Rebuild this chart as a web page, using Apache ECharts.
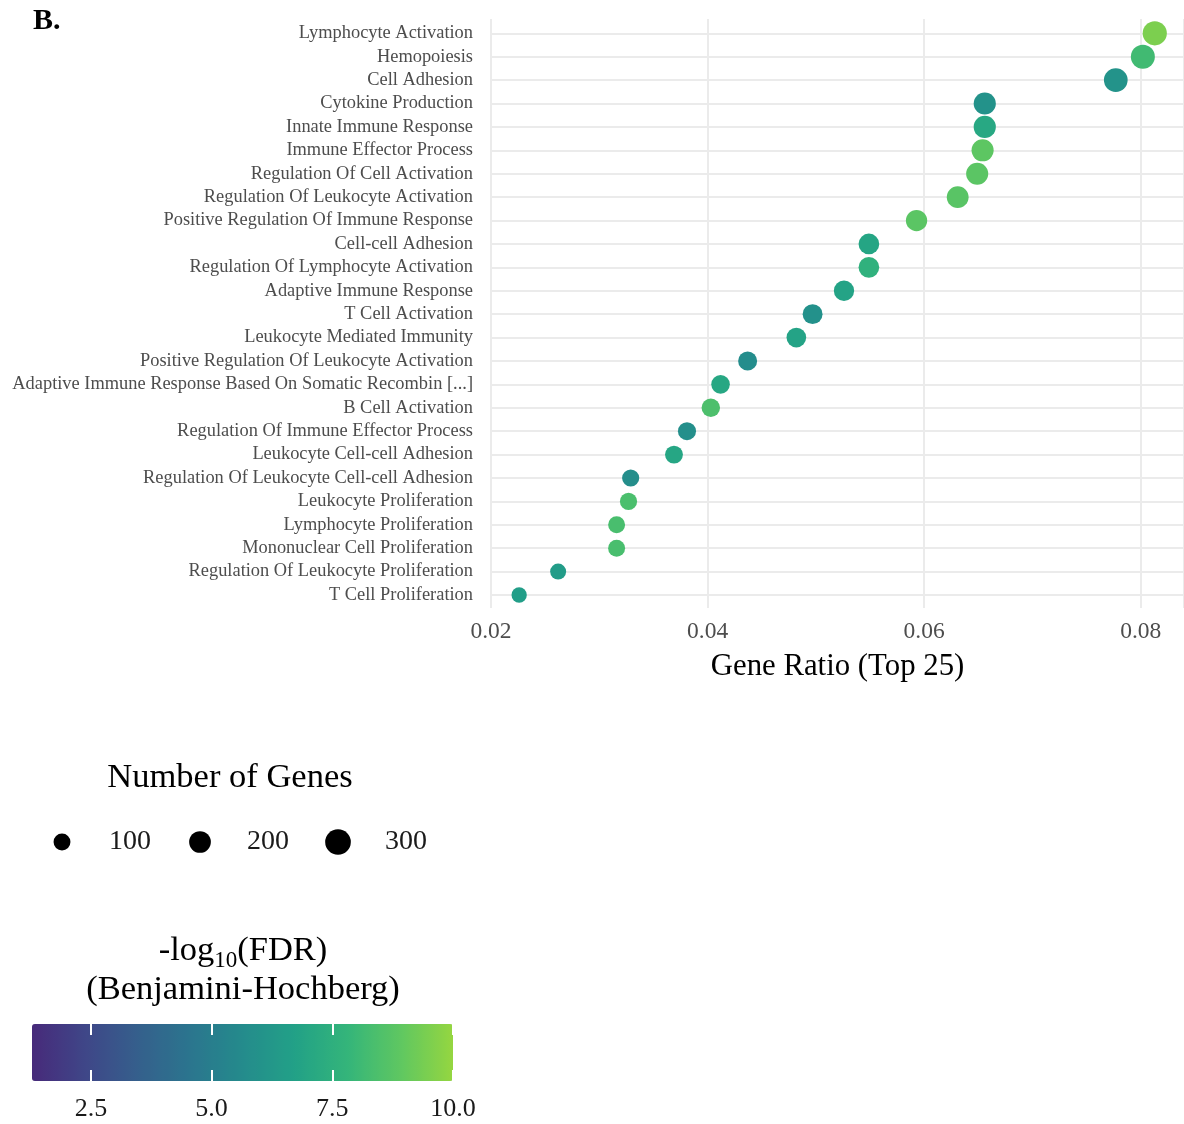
<!DOCTYPE html>
<html>
<head>
<meta charset="utf-8">
<script src="https://cdn.jsdelivr.net/npm/echarts@6/dist/echarts.min.js"></script>
<style>
html,body{margin:0;padding:0;background:#fff;}
#chart{width:1184px;height:1124px;}
</style>
</head>
<body>
<div id="chart"></div>
<script>
const categories = [
  'Lymphocyte Activation',
  'Hemopoiesis',
  'Cell Adhesion',
  'Cytokine Production',
  'Innate Immune Response',
  'Immune Effector Process',
  'Regulation Of Cell Activation',
  'Regulation Of Leukocyte Activation',
  'Positive Regulation Of Immune Response',
  'Cell-cell Adhesion',
  'Regulation Of Lymphocyte Activation',
  'Adaptive Immune Response',
  'T Cell Activation',
  'Leukocyte Mediated Immunity',
  'Positive Regulation Of Leukocyte Activation',
  'Adaptive Immune Response Based On Somatic Recombin [...]',
  'B Cell Activation',
  'Regulation Of Immune Effector Process',
  'Leukocyte Cell-cell Adhesion',
  'Regulation Of Leukocyte Cell-cell Adhesion',
  'Leukocyte Proliferation',
  'Lymphocyte Proliferation',
  'Mononuclear Cell Proliferation',
  'Regulation Of Leukocyte Proliferation',
  'T Cell Proliferation'
];
const geneRatio = [0.0813,0.0802,0.0777,0.0656,0.0656,0.0654,0.0649,0.0631,0.0593,0.0549,0.0549,0.0526,0.0497,0.0482,0.0437,0.0412,0.0403,0.0381,0.0369,0.0329,0.0327,0.0316,0.0316,0.0262,0.0226];
const geneCount = [260,257,249,210,210,209,208,202,190,176,176,168,159,154,140,132,129,122,118,105,105,101,101,84,72];
const negLog10FDR = [9.49,8.15,6.06,5.97,7.1,8.85,8.8,8.75,8.8,6.94,7.58,6.83,5.93,6.83,5.74,7.05,8.45,5.82,7.0,5.8,8.4,8.34,8.34,6.5,6.6];

const xTicks = [0.02, 0.04, 0.06, 0.08];
const sizeLegendValues = [100, 200, 300];
const colorbarTicks = [2.5, 5.0, 7.5, 10.0];
const colorbarRange = [1.28, 10.0];
const viridisStops = ['#472A7A','#3F4688','#355F8C','#2B758E','#248B8C','#22A187','#34B57A','#5FC761','#95D640'];

const FONT = 'Liberation Serif';
const sizeScale = n => Math.sqrt(100 + 1.86 * n);

const chart = echarts.init(document.getElementById('chart'), null, {renderer: 'canvas'});

const option = {
  animation: false,
  backgroundColor: '#ffffff',
  textStyle: {fontFamily: FONT},
  grid: [
    {left: 491, right: 0, top: 33.3, height: 561.7},
    {left: 491, right: 0, top: 19, height: 589},
    {left: 32, width: 421, top: 1024, height: 57},
    {left: 62, width: 414, top: 832, height: 20}
  ],
  xAxis: [
    {gridIndex: 0, type: 'value', min: 0.02, max: 0.084, show: false},
    {gridIndex: 1, type: 'value', min: xTicks[0], max: 0.084, interval: 0.02,
      axisLine: {show: false}, axisTick: {show: false},
      splitLine: {show: true, lineStyle: {color: '#EBEBEB', width: 2}},
      axisLabel: {showMaxLabel: false, formatter: v => v.toFixed(2), fontSize: 23.5, color: '#4D4D4D', margin: 12, fontFamily: FONT},
      name: 'Gene Ratio (Top 25)', nameLocation: 'middle', nameGap: 43,
      nameTextStyle: {fontSize: 30.8, color: '#000', fontFamily: FONT}
    },
    {gridIndex: 2, type: 'value', min: colorbarRange[0], max: colorbarRange[1], position: 'bottom', z: 10,
      axisLine: {show: false}, splitLine: {show: false},
      axisTick: {show: true, inside: true, length: 11, customValues: colorbarTicks, lineStyle: {color: '#fff', width: 2}},
      axisLabel: {customValues: colorbarTicks, formatter: v => v.toFixed(1), fontSize: 26, color: '#1A1A1A', margin: 15, fontFamily: FONT}
    },
    {gridIndex: 2, type: 'value', min: colorbarRange[0], max: colorbarRange[1], position: 'top', z: 10,
      axisLine: {show: false}, splitLine: {show: false}, axisLabel: {show: false},
      axisTick: {show: true, inside: true, length: 11, customValues: colorbarTicks, lineStyle: {color: '#fff', width: 2}}
    },
    {gridIndex: 3, type: 'value', min: 0, max: 3, show: false}
  ],
  yAxis: [
    {gridIndex: 0, type: 'category', data: categories, inverse: true, boundaryGap: false,
      axisLine: {show: false}, axisTick: {show: false},
      splitLine: {show: true, interval: 0, lineStyle: {color: '#EBEBEB', width: 2}},
      axisLabel: {interval: 0, margin: 18, fontSize: 18.4, color: '#4D4D4D', fontFamily: FONT}
    },
    {gridIndex: 1, type: 'value', show: false},
    {gridIndex: 2, type: 'value', show: false},
    {gridIndex: 3, type: 'value', min: -1, max: 1, show: false}
  ],
  visualMap: [{
    type: 'continuous', seriesIndex: 0, dimension: 3,
    min: colorbarRange[0], max: colorbarRange[1],
    inRange: {color: viridisStops},
    orient: 'horizontal', left: 32, top: 1024,
    itemWidth: 57, itemHeight: 421, padding: 0,
    calculable: false, hoverLink: false, text: null, z: 4
  }],
  graphic: [
    {type: 'text', left: 33, top: 6, style: {text: 'B.', font: 'bold 30px "Liberation Serif"', fill: '#000'}},
    {type: 'text', x: 230, y: 778, style: {text: 'Number of Genes', font: '34.5px "Liberation Serif"', fill: '#000', align: 'center', verticalAlign: 'middle'}},
    {type: 'text', x: 243, y: 951, style: {
      text: '-log{sub|10}(FDR)', font: '34.5px "Liberation Serif"', fill: '#000', align: 'center', verticalAlign: 'middle',
      rich: {sub: {fontSize: 23, fontFamily: FONT, padding: [20, 0, 0, 0], fill: '#000'}}
    }},
    {type: 'text', x: 243, y: 990, style: {text: '(Benjamini-Hochberg)', font: '34.5px "Liberation Serif"', fill: '#000', align: 'center', verticalAlign: 'middle'}}
  ],
  series: [
    {
      type: 'scatter', xAxisIndex: 0, yAxisIndex: 0, z: 5,
      data: categories.map((c, i) => [geneRatio[i], c, geneCount[i], negLog10FDR[i]]),
      symbolSize: d => sizeScale(d[2]),
      itemStyle: {opacity: 1},
      emphasis: {disabled: true}
    },
    {
      type: 'scatter', xAxisIndex: 4, yAxisIndex: 3,
      data: sizeLegendValues.map((v, i) => [i, 0, v]),
      symbolSize: d => sizeScale(d[2]),
      itemStyle: {color: '#000', opacity: 1},
      emphasis: {disabled: true},
      label: {show: true, position: 'inside', align: 'left', offset: [47, 0],
        formatter: p => String(p.data[2]), fontSize: 28, color: '#1A1A1A', fontFamily: FONT}
    }
  ]
};
chart.setOption(option);
</script>
</body>
</html>
